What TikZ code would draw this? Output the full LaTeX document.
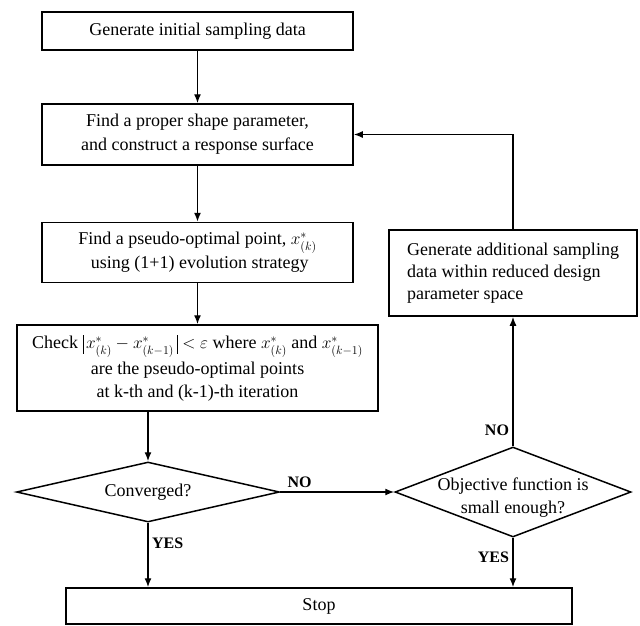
\documentclass[tikz,border=0pt]{standalone}
\usepackage{fontspec}
\setmainfont{Liberation Serif}
\usepackage{amsmath,amssymb}
\usetikzlibrary{shapes.geometric,arrows.meta}
\newcommand{\tallbar}{\rule[-5pt]{0.6pt}{19pt}}

\begin{document}
\begin{tikzpicture}[x=1pt,y=-1pt]
      \tikzstyle{box}=[draw, line width=1.5pt, inner sep=1pt, align=center,
        font=\fontsize{18}{24}\selectfont];
      \tikzstyle{decision}=[draw, diamond, line width=1.5pt, inner sep=0pt,
        label distance=0pt];
      \tikzstyle{flow}=[line width=1.4pt, -{Latex[length=9pt,width=7pt]}];
      \tikzstyle{answer}=[font=\fontsize{16}{18}\selectfont\bfseries];
      \useasboundingbox (0,0) rectangle (640,625);
      % main column
      \draw (197.5,31) node[style=box, minimum width=311pt, minimum height=38pt]
        (init) {Generate initial sampling data};
      \draw (197.5,134.5) node[style=box, minimum width=311pt, minimum height=61pt]
        (surface) {Find a proper shape parameter,\\and construct a response surface};
      \draw (197.5,252.5) node[style=box, minimum width=311pt, minimum height=60pt]
        (pseudo) {Find a pseudo-optimal point, $x^{*}_{(k)}$\\
        \ using (1+1) evolution strategy};
      \draw (197.5,368) node[style=box, minimum width=361pt, minimum height=86pt,
        font=\fontsize{18}{23}\selectfont]
        (check) {Check $\tallbar\,x^{*}_{(k)}-x^{*}_{(k-1)}\,\tallbar<\varepsilon$ where
        $x^{*}_{(k)}$ and $x^{*}_{(k-1)}$\\[3pt]are the pseudo-optimal points\\
        at k-th and (k-1)-th iteration};
      \draw (148,492) node[style=decision, minimum width=263pt, minimum height=60pt,
        label={[font=\fontsize{18}{24}\selectfont]center:Converged?}] (conv) {};
      \draw (513,492) node[style=decision, minimum width=236pt, minimum height=90pt,
        label={[font=\fontsize{18}{23}\selectfont, align=center, yshift=-6pt]center:Objective function is\\small enough?}] (objective) {};
      \draw (513,273) node[style=box, minimum width=248pt, minimum height=86pt,
        align=left, font=\fontsize{18}{22}\selectfont]
        (additional) {Generate additional sampling\\data within reduced design\\parameter space};
      \draw (319,606) node[style=box, minimum width=506pt, minimum height=36pt]
        (stop) {Stop};
      % connectors
      \draw[style=flow] (init) -- (surface);
      \draw[style=flow] (surface) -- (pseudo);
      \draw[style=flow] (pseudo) -- (check);
      \draw[style=flow] (check.south -| conv.north) -- (conv.north);
      \draw[style=flow] (conv.east) -- node[style=answer, above, pos=0.17] {NO}
        (objective.west);
      \draw[style=flow] (objective.north) -- node[style=answer, left, pos=0.12] {NO}
        (additional.south);
      \draw[style=flow] (additional.north) |- (surface.east);
      \draw[style=flow] (conv.south) -- node[style=answer, right, pos=0.32] {YES}
        (conv.south |- stop.north);
      \draw[style=flow] (objective.south) -- node[style=answer, left, pos=0.4] {YES}
        (objective.south |- stop.north);
    \end{tikzpicture}
\end{document}
